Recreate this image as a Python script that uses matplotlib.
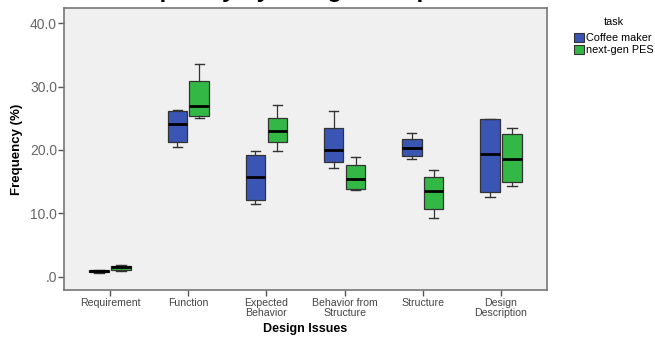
import matplotlib
matplotlib.use("Agg")
import matplotlib.pyplot as plt
from matplotlib.patches import Patch

categories = ["Requirement", "Function", "Expected\nBehavior", "Behavior from\nStructure",
              "Structure", "Design\nDescription"]
series = ["Coffee maker", "next-gen PES"]

# box statistics per category: whisker low, Q1, median, Q3, whisker high
coffee_whislo = [0.55, 20.5, 11.4, 17.1, 18.6, 12.6]
coffee_q1     = [0.70, 21.3, 12.1, 18.15, 19.1, 13.3]
coffee_med    = [0.85, 24.1, 15.7, 20.0, 20.3, 19.4]
coffee_q3     = [1.00, 26.15, 19.2, 23.5, 21.7, 24.85]
coffee_whishi = [1.10, 26.3, 19.8, 26.1, 22.6, 24.95]

pes_whislo = [0.90, 25.05, 19.84, 13.75, 9.2, 14.35]
pes_q1     = [1.10, 25.3, 21.3, 13.85, 10.7, 15.0]
pes_med    = [1.50, 26.9, 23.0, 15.4, 13.5, 18.6]
pes_q3     = [1.75, 30.9, 25.05, 17.7, 15.7, 22.5]
pes_whishi = [1.85, 33.6, 27.05, 18.95, 16.85, 23.4]

yticks = [0, 10, 20, 30, 40]
ytick_labels = [".0", "10.0", "20.0", "30.0", "40.0"]

colors = ["#3a55b4", "#33b845"]

plt.rcParams['font.family'] = ['Liberation Sans', 'DejaVu Sans']

fig = plt.figure(figsize=(6.55, 3.45), dpi=100)
ax = fig.add_axes([64/655, 1-290/345, (547-64)/655, (290-8)/345])
ax.set_facecolor("#f0f0f0")

def stats(lo, q1, med, q3, hi):
    return [dict(whislo=a, q1=b, med=c, q3=d, whishi=e, fliers=[])
            for a, b, c, d, e in zip(lo, q1, med, q3, hi)]

groups = [
    stats(coffee_whislo, coffee_q1, coffee_med, coffee_q3, coffee_whishi),
    stats(pes_whislo, pes_q1, pes_med, pes_q3, pes_whishi),
]
offsets = [-0.14, 0.14]
for g, off, col in zip(groups, offsets, colors):
    pos = [i + off for i in range(len(categories))]
    ax.bxp(g, positions=pos, widths=0.25, patch_artist=True, showfliers=False,
           boxprops=dict(facecolor=col, edgecolor="#333333", linewidth=0.9),
           medianprops=dict(color="black", linewidth=2.0),
           whiskerprops=dict(color="#333333", linewidth=0.9),
           capprops=dict(color="#333333", linewidth=1.0),
           capwidths=0.12, manage_ticks=False)

ax.set_xlim(-0.59, 5.59)
ax.set_ylim(-2.1, 42.4)
ax.set_xticks(range(len(categories)))
ax.set_xticklabels(categories, fontsize=7.6, color="#444444", linespacing=0.95)
ax.set_yticks(yticks)
ax.set_yticklabels(ytick_labels, fontsize=10, color="#666666")
ax.tick_params(axis='both', direction='out', length=4, width=1, color="#555555")
ax.tick_params(axis='x', pad=2)
ax.tick_params(axis='y', pad=1)
for s in ax.spines.values():
    s.set_color("#777777")
    s.set_linewidth(1.2)

ax.set_ylabel("Frequency (%)", fontsize=9.5, fontweight='bold', labelpad=5)
ax.set_xlabel("Design Issues", fontsize=9, fontweight='bold', labelpad=4)

# title, mostly above the top edge as in the reference (only descenders visible)
fig.text(305.5/655, 1 + 2.5/345, "Frequency by Design Component", ha='center', va='baseline',
         fontsize=17.3, fontweight='bold')

handles = [Patch(facecolor=c, edgecolor="#333333", linewidth=0.8) for c in colors]
leg = fig.legend(handles, series, loc='upper left', bbox_to_anchor=(572/655, 1-15/345),
                 frameon=False, fontsize=7.8, title="task", title_fontsize=7.8,
                 handlelength=0.9, handleheight=1.0, handletextpad=0.2,
                 labelspacing=0.12, borderpad=0.2, borderaxespad=0)
leg._legend_box.sep = 4

fig.savefig("out.png", dpi=100)
